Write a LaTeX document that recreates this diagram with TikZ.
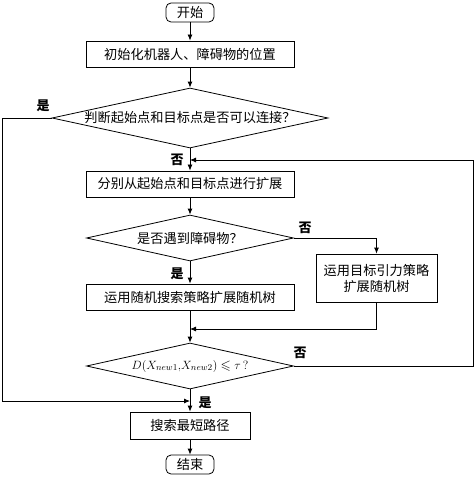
\documentclass[tikz,border=0pt]{standalone}
\usepackage{amssymb}
\usepackage{fontspec}
\newfontfamily\cjk{Noto Sans CJK SC}
\usetikzlibrary{shapes.geometric,arrows.meta}
\begin{document}
\begin{tikzpicture}[x=1pt,y=-1pt,
  line width=0.8pt,
  every node/.style={font=\cjk\fontsize{13.2}{16}\selectfont, inner sep=0pt},
  procbox/.style={draw, rectangle, minimum height=26pt},
  termbox/.style={draw, rectangle, rounded corners=5pt, minimum width=48pt, minimum height=19pt},
  decbox/.style={draw, diamond, aspect=4.5},
  yn/.style={font=\cjk\bfseries\fontsize{13}{15}\selectfont},
  arr/.style={-{Latex[length=6pt,width=5pt]}}
]
\useasboundingbox (0,0) rectangle (474,478);

\node[termbox] (start) at (190,12.5) {开始};
\node[procbox, minimum width=208pt] (init) at (190,54) {初始化机器人、障碍物的位置};
\node[decbox, minimum width=276pt, minimum height=60pt] (d1) at (190,118) {判断起始点和目标点是否可以连接？};
\node[procbox, minimum width=208pt] (expand) at (190,184) {分别从起始点和目标点进行扩展};
\node[decbox, minimum width=207pt, minimum height=46pt] (d2) at (190,238) {是否遇到障碍物？};
\node[procbox, minimum width=121pt, minimum height=48pt, align=center] (goal) at (376.5,278) {运用目标引力策略\\扩展随机树};
\node[procbox, minimum width=208pt] (rand) at (190,297) {运用随机搜索策略扩展随机树};
\node[decbox, minimum width=207pt, minimum height=46pt] (d3) at (190,366) {$D(X_{new1},\!X_{new2})\leqslant\tau\,?$};
\node[procbox, minimum width=120pt, minimum height=27pt] (path) at (190,425.5) {搜索最短路径};
\node[termbox] (stop) at (190,464.5) {结束};

\coordinate (j1) at (190,401);
\coordinate (j2) at (190,329);
\coordinate (j3) at (190,160);

\draw[arr] (start) -- (init);
\draw[arr] (init) -- (d1);
\draw[arr] (d1) -- (expand);
\draw[arr] (d1.west) -- ++(-49,0) |- (j1);
\draw[arr] (expand) -- (d2);
\draw[arr] (d2.east) -| (goal.north);
\draw[arr] (d2) -- (rand);
\draw[arr] (rand) -- (d3);
\draw[arr] (goal.south) |- (j2);
\draw[arr] (d3.east) -- ++(179,0) |- (j3);
\draw[arr] (d3) -- (path);
\draw[arr] (path) -- (stop);

\node[yn] (l1) at (43,106) {是};
\node[yn] (l2) at (177,160) {否};
\node[yn] (l3) at (305,228) {否};
\node[yn] (l4) at (177,274) {是};
\node[yn] (l5) at (300,353) {否};
\node[yn] (l6) at (205,403) {是};
\end{tikzpicture}
\end{document}
